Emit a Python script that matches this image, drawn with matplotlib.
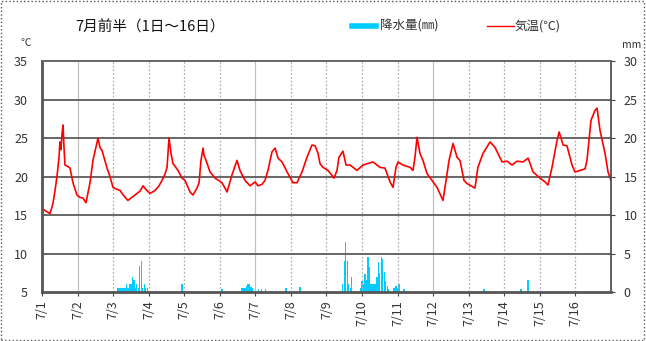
import matplotlib
matplotlib.use('Agg')
import matplotlib.pyplot as plt
from matplotlib.patches import Rectangle

plt.rcParams['font.family'] = ['Noto Sans CJK JP', 'DejaVu Sans']

# hours since 7/1 00:00 and temperature (deg C)
temp_hour = [0, 2.7, 5.4, 7.4, 8.8, 10.1, 11.5, 12.1, 12.8, 13.5, 14.2, 14.8, 15.5,
             17.5, 18.9, 20.9, 23.6, 25.6, 27.7, 29.7, 32.4, 34.4, 36.4, 37.8, 39.1,
             40.5, 41.8, 43.9, 45.9, 47.9, 49.9, 52.6, 55.3, 58.0, 60.7, 64.1, 66.1,
             68.2, 70.2, 72.9, 76.3, 79.0, 81.0, 83.0, 84.4, 85.0, 85.7, 87.1, 88.4,
             91.8, 94.5, 96.5, 99.9, 101.9, 104.6, 106.0, 107.3, 108.7, 109.3, 110.7,
             113.4, 116.8, 121.5, 124.9, 128.2, 130.9, 131.6, 133.6, 137.0, 140.4,
             143.8, 145.8, 148.5, 150.5, 152.5, 155.2, 157.3, 159.3, 162.0, 165.4,
             169.4, 172.1, 175.5, 178.8, 182.2, 184.3, 186.3, 187.6, 189.6, 193.0,
             197.1, 199.1, 200.4, 203.1, 205.2, 207.9, 212.6, 216.6, 220.0, 223.4,
             228.1, 231.5, 234.9, 236.9, 238.9, 240.3, 243.6, 248.4, 250.4, 251.7,
             253.1, 255.1, 257.1, 259.8, 263.2, 266.6, 270.6, 272.7, 274.7, 277.4,
             280.1, 282.1, 284.8, 286.8, 292.2, 294.2, 297.6, 302.4, 305.7, 310.5,
             313.9, 317.2, 320.6, 324.7, 328.1, 331.4, 336.1, 339.5, 341.5, 344.2,
             347.6, 349.0, 351.7, 354.3, 357.7, 359.7, 363.1, 366.5, 367.8, 370.5,
             373.2, 374.6, 376.6, 380.0, 382.0, 384.0]
temp_val = [15.9, 15.5, 15.2, 16.5, 18.2, 20.0, 22.5, 24.5, 23.5, 25.5, 26.7, 24.0, 21.5,
            21.3, 21.1, 19.2, 17.6, 17.3, 17.2, 16.6, 19.2, 22.1, 23.8, 25.0, 23.8,
            23.4, 22.5, 21.1, 20.0, 18.6, 18.4, 18.2, 17.5, 16.9, 17.3, 17.8, 18.1,
            18.8, 18.3, 17.8, 18.2, 18.8, 19.5, 20.3, 21.2, 23.0, 25.0, 23.0, 21.7,
            20.8, 19.8, 19.5, 18.0, 17.6, 18.5, 19.2, 22.1, 23.7, 22.8, 22.1,
            20.6, 19.8, 19.2, 18.0, 20.2, 21.7, 22.1, 20.8, 19.5, 18.8,
            19.3, 18.8, 19.0, 19.5, 20.8, 23.2, 23.7, 22.4, 21.9, 20.6,
            19.2, 19.2, 20.6, 22.5, 24.1, 24.0, 23.0, 21.7, 21.2, 20.8,
            19.8, 20.8, 22.5, 23.3, 21.5, 21.5, 20.8, 21.5, 21.7, 21.9,
            21.2, 21.1, 19.3, 18.6, 21.2, 21.9, 21.5, 21.2, 20.8, 22.5,
            25.1, 23.0, 22.1, 20.4, 19.5, 18.6, 16.9, 19.5, 22.1, 24.3,
            22.5, 22.1, 19.5, 19.1, 18.5, 21.2, 23.0, 24.5, 23.8, 21.9,
            22.0, 21.5, 22.0, 21.9, 22.4, 20.6, 19.8, 19.3, 18.9, 21.2,
            24.7, 25.8, 24.1, 24.0, 21.5, 20.6, 20.8, 21.0, 22.1, 27.3,
            28.6, 28.9, 26.0, 23.0, 20.6, 19.5]

# hourly precipitation (mm)
rain_hour = [51, 52, 53, 54, 55, 56, 57, 58, 59, 60, 61, 62, 63, 64, 65, 66, 67, 68, 69, 70, 71,
             94.5, 121.5,
             135, 136, 137, 138, 139, 140, 141, 142, 144, 146, 148, 151,
             164.7, 174.2,
             203, 204, 205, 206, 207, 208, 209,
             215, 216, 217, 218, 219, 220, 221, 222, 223, 224, 225, 226, 227, 228, 229,
             230, 231, 232, 233, 234,
             237, 238, 239, 240, 241, 244.3,
             298.3, 323.3, 328.1]
rain_val = [0.5, 0.5, 0.5, 0.5, 0.5, 0.5, 1.0, 0.5, 1.0, 1.0, 2.0, 1.5, 0.5, 1.0, 0.5, 3.4, 4.0,
            0.5, 1.0, 0.5, 0.5,
            1.0, 0.4,
            0.5, 0.5, 0.5, 0.8, 1.0, 1.0, 0.6, 0.5, 0.4, 0.4, 0.4, 0.4,
            0.5, 0.6,
            1.0, 4.0, 6.5, 4.0, 1.0, 0.5, 2.0,
            0.5, 1.4, 1.0, 2.3, 1.5, 4.5, 3.2, 1.0, 1.0, 1.0, 1.0, 2.0, 3.9, 2.5, 4.5,
            4.3, 2.6, 1.4, 0.8, 0.4,
            0.5, 0.5, 0.8, 0.5, 1.0, 0.4,
            0.4, 0.4, 1.5]

day_labels = ['7/%d' % d for d in range(1, 17)]
day_ticks = [24 * i for i in range(16)]

fig = plt.figure(figsize=(6.46, 3.41), dpi=100)
fig.patches.append(Rectangle((0.002, 0.003), 0.995, 0.994, transform=fig.transFigure,
                             fill=False, edgecolor='#555555', linewidth=1, linestyle=':'))

ax = fig.add_axes([0.065, 0.1437, 0.8808, 0.677])
ax2 = ax.twinx()

ax2.bar(rain_hour, rain_val, width=0.9, color='#00CCFF', align='center', linewidth=0)
ax.plot(temp_hour, temp_val, color='#FF0000', linewidth=1.2)

ax.set_zorder(ax2.get_zorder() + 1)
ax.patch.set_visible(False)

ax.set_xlim(0, 384)
ax.set_ylim(5, 35)
ax2.set_ylim(0, 30)
ax.set_yticks(range(5, 36, 5))
ax2.set_yticks(range(0, 31, 5))
ax.set_xticks(day_ticks)
ax.set_xticklabels(day_labels, rotation=90, fontsize=9, color='#333333')

for y in range(10, 35, 5):
    ax.axhline(y, color='#666666', linewidth=1.4, zorder=1)
for i, t in enumerate(day_ticks[1:], start=1):
    if i % 5 == 1:
        ax.axvline(t, color='#c0c0c0', linewidth=0.9, zorder=0.5)
    else:
        ax.axvline(t, color='#b0b0b0', linewidth=0.9, linestyle=(0, (1.5, 1.5)), zorder=0.5)

ax.tick_params(axis='y', labelsize=9, labelcolor='#333333', length=0, pad=10)
ax2.tick_params(axis='y', labelsize=9, labelcolor='#333333', length=3, color='#444444', pad=6)
ax.tick_params(axis='x', length=3, color='#444444', pad=3)

ax.spines['left'].set_color('#555555')
ax.spines['left'].set_linewidth(2)
ax.spines['bottom'].set_color('#555555')
ax.spines['bottom'].set_linewidth(2)
ax.spines['top'].set_color('#666666')
ax.spines['top'].set_linewidth(1.4)
ax.spines['right'].set_color('#444444')
ax.spines['right'].set_linewidth(1.2)
for s in ax2.spines.values():
    s.set_visible(False)

fig.text(0.116, 0.92, '7月前半（1日～16日）', fontsize=10.5, va='center', ha='left', color='#111111')
fig.text(0.04, 0.875, '℃', fontsize=7.5, va='center', ha='center', color='#333333')
fig.text(0.978, 0.868, 'mm', fontsize=7.5, va='center', ha='center', color='#333333')

# legend
fig.lines.append(plt.Line2D([0.545, 0.582], [0.925, 0.925], transform=fig.transFigure,
                            color='#00CCFF', linewidth=4))
fig.text(0.588, 0.925, '降水量(㎜)', fontsize=9, va='center', ha='left', color='#333333')
fig.lines.append(plt.Line2D([0.754, 0.795], [0.925, 0.925], transform=fig.transFigure,
                            color='#FF0000', linewidth=1))
fig.text(0.797, 0.925, '気温(℃)', fontsize=9, va='center', ha='left', color='#333333')

plt.savefig('out.png', dpi=100)
